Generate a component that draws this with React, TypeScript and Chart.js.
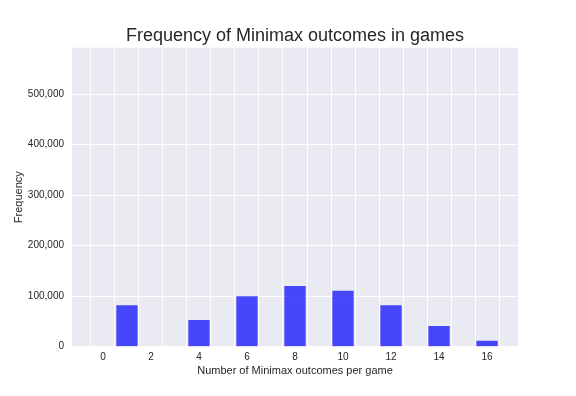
import React, { useEffect, useRef } from "react";
import { Chart, registerables } from "chart.js";

Chart.register(...registerables);

const outcomes = [0, 1, 2, 3, 4, 5, 6, 7, 8, 9, 10, 11, 12, 13, 14, 15, 16];
const frequencies = [0, 82000, 0, 0, 53000, 0, 100000, 0, 120000, 0, 111000, 0, 82000, 0, 41000, 0, 12000];
const xTicks = [0, 1, 2, 3, 4, 5, 6, 7, 8, 9, 10, 11, 12, 13, 14, 15, 16];
const yTicks = [0, 100000, 200000, 300000, 400000, 500000];
const xMin = -1.29;
const xMax = 17.29;
const yMax = 592000;

const FONT = "'Liberation Sans', Arial, sans-serif";
const TEXT = "#262626";

const bgPlugin = {
  id: "plotBg",
  beforeDraw(chart: any) {
    const { ctx, chartArea } = chart;
    ctx.save();
    ctx.fillStyle = "#EAEAF2";
    ctx.fillRect(chartArea.left, chartArea.top, chartArea.right - chartArea.left, chartArea.bottom - chartArea.top);
    ctx.restore();
  },
};

export default function App() {
  const ref = useRef<HTMLCanvasElement | null>(null);
  useEffect(() => {
    if (!ref.current) return;
    const chart = new Chart(ref.current, {
      type: "bar",
      data: {
        datasets: [
          {
            data: outcomes.map((x, i) => ({ x, y: frequencies[i] })),
            backgroundColor: "rgba(0,0,255,0.7)",
            borderWidth: 0,
            barPercentage: 0.89,
            categoryPercentage: 1,
          },
        ],
      },
      options: {
        animation: false,
        responsive: false,
        maintainAspectRatio: false,
        layout: { padding: { left: 0, right: 58, top: 0, bottom: 0 } },
        plugins: {
          legend: { display: false },
          tooltip: { enabled: false },
          title: {
            display: true,
            text: "Frequency of Minimax outcomes in games",
            fullSize: false,
            color: TEXT,
            font: { family: FONT, size: 18, weight: "normal" },
            padding: { top: 25.5, bottom: 0.6 },
          },
        },
        scales: {
          x: {
            type: "linear",
            min: xMin,
            max: xMax,
            offset: false,
            border: { display: false },
            grid: { color: "#FFFFFF", lineWidth: 1, drawTicks: false },
            afterBuildTicks: (s: any) => {
              s.ticks = xTicks.map((v) => ({ value: v }));
            },
            ticks: {
              autoSkip: false,
              maxRotation: 0,
              padding: 5,
              color: TEXT,
              font: { family: FONT, size: 10 },
              callback: (v: any) => (Number(v) % 2 === 0 ? String(v) : ""),
            },
            title: {
              display: true,
              text: "Number of Minimax outcomes per game",
              color: TEXT,
              font: { family: FONT, size: 11 },
              padding: { top: 0, bottom: 18.4 },
            },
            afterFit: (s: any) => {
              s.height = 49.3;
            },
          },
          y: {
            min: 0,
            max: yMax,
            border: { display: false },
            grid: { color: "#FFFFFF", lineWidth: 1, drawTicks: false },
            afterBuildTicks: (s: any) => {
              s.ticks = yTicks.map((v) => ({ value: v }));
            },
            ticks: {
              autoSkip: false,
              padding: 8,
              color: TEXT,
              font: { family: FONT, size: 10 },
              callback: (v: any) => Number(v).toLocaleString("en-US"),
            },
            title: {
              display: true,
              text: "Frequency",
              color: TEXT,
              font: { family: FONT, size: 11 },
              padding: { top: 12.4, bottom: 0 },
            },
            afterFit: (s: any) => {
              s.width = 72;
            },
          },
        },
      },
      plugins: [bgPlugin],
    });
    return () => chart.destroy();
  }, []);
  return (
    <div style={{ position: "fixed", left: 0, top: 0, width: 576, height: 396, background: "#fff" }}>
      <canvas ref={ref} width={576} height={396} style={{ width: 576, height: 396 }} />
    </div>
  );
}
